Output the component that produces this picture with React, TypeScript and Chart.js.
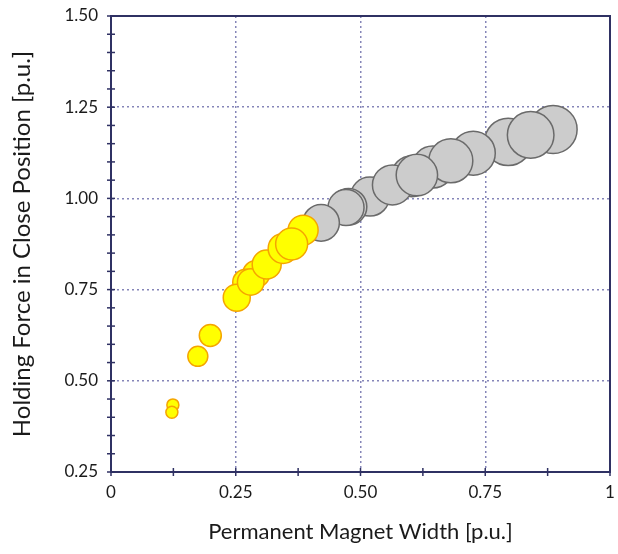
import React, { useEffect, useRef } from "react";
import { Chart, registerables } from "chart.js";

Chart.register(...registerables);

// Yellow series (drawn first, behind the gray one)
const yellowX = [0.124, 0.122, 0.174, 0.199, 0.291, 0.270, 0.252, 0.280, 0.312, 0.385, 0.345, 0.362];
const yellowY = [0.434, 0.414, 0.567, 0.624, 0.793, 0.770, 0.728, 0.771, 0.819, 0.913, 0.863, 0.875];
const yellowR = [6, 6, 10, 11, 13.5, 13, 13.5, 13.3, 14.5, 15, 15, 16];

// Gray series
const grayX = [0.886, 0.796, 0.841, 0.726, 0.645, 0.603, 0.681, 0.519, 0.564, 0.613, 0.476, 0.471, 0.421];
const grayY = [1.189, 1.155, 1.174, 1.124, 1.086, 1.061, 1.103, 1.005, 1.037, 1.064, 0.977, 0.975, 0.933];
const grayR = [24, 23.7, 23.3, 22, 21, 20.5, 22, 19.5, 20, 20.7, 18.3, 18, 18.3];

const xTickLabels = ["0", "0.25", "0.50", "0.75", "1"];
const yTickLabels = ["0.25", "0.50", "0.75", "1.00", "1.25", "1.50"];

const X_MIN = 0, X_MAX = 1, X_STEP = 0.25, X_MINOR = 0.125;
const Y_MIN = 0.25, Y_MAX = 1.5, Y_STEP = 0.25, Y_MINOR = 0.05;

const AXIS_COLOR = "#2f3163";
const GRID_COLOR = "#8585b8";
const FONT = "Lato, 'Open Sans', sans-serif";

const framePlugin = {
  id: "frameAndMinorTicks",
  afterDraw(chart: any) {
    const { ctx, chartArea: a, scales } = chart;
    ctx.save();
    ctx.strokeStyle = AXIS_COLOR;
    ctx.lineWidth = 2;
    ctx.strokeRect(a.left, a.top, a.right - a.left, a.bottom - a.top);
    ctx.lineWidth = 1.5;
    const ys = scales.y;
    const nY = Math.round((Y_MAX - Y_MIN) / Y_MINOR);
    for (let i = 0; i <= nY; i++) {
      const py = ys.getPixelForValue(Y_MIN + i * Y_MINOR);
      ctx.beginPath();
      ctx.moveTo(a.left - 4, py);
      ctx.lineTo(a.left + 4, py);
      ctx.stroke();
    }
    const xs = scales.x;
    const nX = Math.round((X_MAX - X_MIN) / X_MINOR);
    for (let i = 0; i <= nX; i++) {
      const px = xs.getPixelForValue(X_MIN + i * X_MINOR);
      ctx.beginPath();
      ctx.moveTo(px, a.bottom - 4);
      ctx.lineTo(px, a.bottom + 4);
      ctx.stroke();
    }
    ctx.restore();
  },
};

const zeroPad = (s: any) => {
  s.paddingLeft = 0;
  s.paddingRight = 0;
  s.paddingTop = 0;
  s.paddingBottom = 0;
};

export default function App() {
  const ref = useRef<HTMLCanvasElement | null>(null);

  useEffect(() => {
    document.body.style.margin = "0";
    if (!ref.current) return;
    const toPoints = (xs: number[], ys: number[], rs: number[]) =>
      xs.map((x, i) => ({ x, y: ys[i], r: rs[i] }));
    const chart = new Chart(ref.current, {
      type: "bubble",
      data: {
        datasets: [
          {
            label: "A",
            data: toPoints(yellowX, yellowY, yellowR),
            backgroundColor: "#ffff00",
            borderColor: "#f5a500",
            borderWidth: 1.5,
          },
          {
            label: "B",
            data: toPoints(grayX, grayY, grayR),
            backgroundColor: "#cccccc",
            borderColor: "#6a6a6a",
            borderWidth: 1.5,
          },
        ],
      },
      options: {
        animation: false,
        responsive: false,
        events: [],
        layout: { autoPadding: false, padding: { top: 16, right: 8, left: 0, bottom: 0 } },
        plugins: { legend: { display: false }, tooltip: { enabled: false } },
        scales: {
          x: {
            type: "linear",
            min: X_MIN,
            max: X_MAX,
            afterFit: (s: any) => { s.height = 82; zeroPad(s); },
            ticks: {
              stepSize: X_STEP,
              padding: 10,
              color: "#1a1a1a",
              font: { family: FONT, size: 17 },
              maxRotation: 0,
              callback: (_v: any, i: number) => xTickLabels[i],
            },
            grid: { color: GRID_COLOR, lineWidth: 1.5, drawTicks: false },
            border: { display: true, color: AXIS_COLOR, width: 2, dash: [2, 3] },
            title: {
              display: true,
              text: "Permanent Magnet Width [p.u.]",
              color: "#1a1a1a",
              font: { family: FONT, size: 22 },
              padding: { top: 0, bottom: 9 },
            },
          },
          y: {
            type: "linear",
            min: Y_MIN,
            max: Y_MAX,
            afterFit: (s: any) => { s.width = 111; zeroPad(s); },
            ticks: {
              stepSize: Y_STEP,
              padding: 13,
              color: "#1a1a1a",
              font: { family: FONT, size: 17 },
              callback: (_v: any, i: number) => yTickLabels[i],
            },
            grid: { color: GRID_COLOR, lineWidth: 1.5, drawTicks: false },
            border: { display: true, color: AXIS_COLOR, width: 2, dash: [2, 3] },
            title: {
              display: true,
              text: "Holding Force in Close Position [p.u.]",
              color: "#1a1a1a",
              font: { family: FONT, size: 24 },
              padding: { top: 8, bottom: 0 },
            },
          },
        },
      },
      plugins: [framePlugin],
    });
    return () => chart.destroy();
  }, []);

  return (
    <div style={{ width: 618, height: 554 }}>
      <canvas ref={ref} width={618} height={554} />
    </div>
  );
}
